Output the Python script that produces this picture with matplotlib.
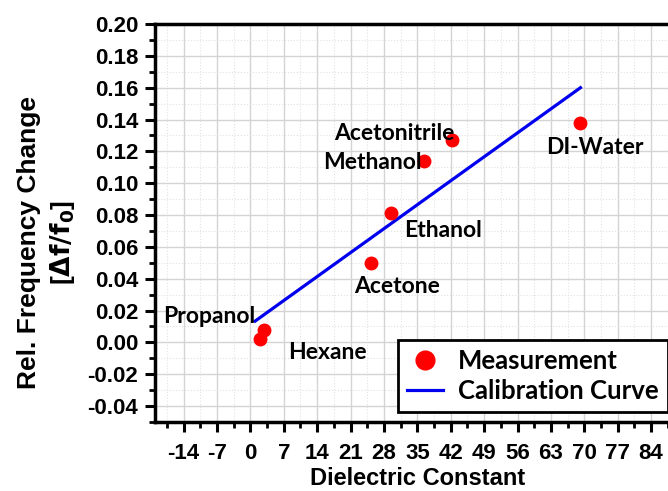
import numpy as np
import matplotlib
matplotlib.use('Agg')
import matplotlib.pyplot as plt
from matplotlib.ticker import MultipleLocator

plt.rcParams['axes.unicode_minus'] = False

# --- measured solvents --- #
solvents = ['Propanol', 'Hexane', 'Acetone', 'Ethanol', 'Methanol', 'Acetonitrile', 'DI-Water']
eps_r = [2.9, 2.1, 25.2, 29.4, 36.5, 42.3, 69.0]
rel_df = [0.008, 0.002, 0.050, 0.081, 0.114, 0.127, 0.138]

# calibration fit end points
cal_eps = [1.0, 69.2]
cal_df = [0.0134, 0.160]

# label anchor (x, y, horizontal alignment)
label_pos = [(1.0, 0.016, 'right'), (8.0, -0.0065, 'left'), (21.8, 0.035, 'left'),
             (32.3, 0.0705, 'left'), (36.0, 0.113, 'right'), (17.6, 0.131, 'left'),
             (62.0, 0.1225, 'left')]

fig = plt.figure(figsize=(6.68, 4.91), dpi=100)
ax = fig.add_axes([0.232, 0.1405, 0.7855, 0.8106])

ax.xaxis.set_minor_locator(MultipleLocator(3.5))
ax.yaxis.set_minor_locator(MultipleLocator(0.01))
ax.set_xticks(np.arange(-14, 85, 7))
ax.set_yticks(np.arange(-0.04, 0.201, 0.02))
ax.set_xlim(-20, 90)
ax.set_ylim(-0.05, 0.20)

ax.grid(True, which='major', color='#d4d4d4', linewidth=1.0, zorder=0)
ax.grid(True, which='minor', color='#e2e2e2', linewidth=0.8, linestyle=':', zorder=0)
ax.set_axisbelow(True)

p0, = ax.plot(eps_r, rel_df, 'o', color='red', markersize=9, label='Measurement', zorder=3)
p1, = ax.plot(cal_eps, cal_df, '-', color='#0000ee', linewidth=2.3, label='Calibration Curve', zorder=2)

for name, (lx, ly, ha) in zip(solvents, label_pos):
    ax.text(lx, ly, name, ha=ha, va='center', fontsize=16.5, fontweight='bold',
            family='Lato', zorder=4)

for s in ax.spines.values():
    s.set_linewidth(2.5)

ax.tick_params(which='major', direction='out', length=7, width=2.2, pad=5)
ax.tick_params(which='minor', direction='out', length=4, width=2)
ax.tick_params(axis='x', which='major', pad=8)

ax.set_xticklabels([str(int(v)) for v in np.arange(-14, 85, 7)])
ax.set_yticklabels(['%.2f' % v for v in np.arange(-0.04, 0.201, 0.02)])
for label in (ax.get_xticklabels() + ax.get_yticklabels()):
    label.set_family('Liberation Sans')
    label.set_fontweight('bold')
    label.set_fontsize(16)

ax.set_xlabel('Dielectric Constant', family='Liberation Sans', fontweight='bold', fontsize=17, labelpad=2)
ax.set_ylabel('Rel. Frequency Change\n[$\\mathbf{\\Delta f/f_0}$]', family='Liberation Sans',
              fontweight='bold', fontsize=19, linespacing=1.35)
ax.yaxis.set_label_coords(-0.148, 0.45)

leg = ax.legend(handles=[p0, p1], loc='lower left', bbox_to_anchor=(0.463, 0.025),
                borderaxespad=0, fancybox=False, framealpha=1, edgecolor='black', borderpad=0.35,
                prop={'family': 'Lato', 'weight': 'bold', 'size': 18.5}, handlelength=1.4,
                handletextpad=0.6, labelspacing=0.22, markerscale=1.5)
leg.get_frame().set_linewidth(2)

plt.savefig('out.png', dpi=100)
